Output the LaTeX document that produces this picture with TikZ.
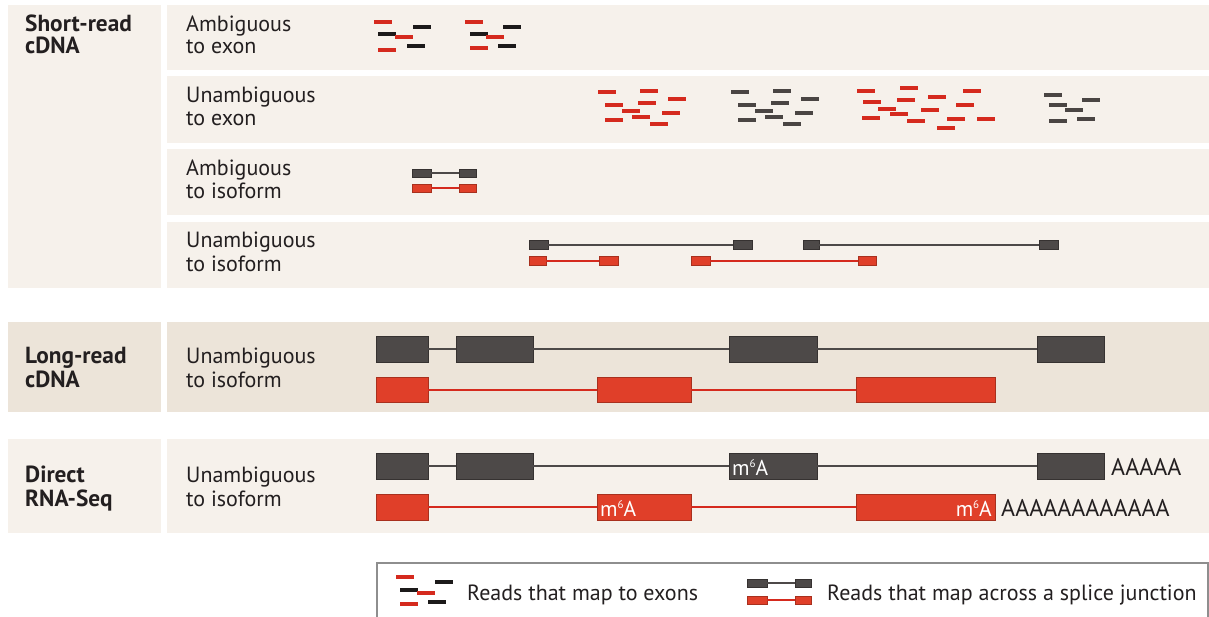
\documentclass[tikz,border=0pt]{standalone}
\usepackage{fontspec}
\setmainfont{PT Sans}
\definecolor{panelA}{HTML}{F6F1EB}
\definecolor{panelB}{HTML}{ECE4D9}
\definecolor{exgray}{HTML}{4D4948}
\definecolor{exgrayb}{HTML}{363231}
\definecolor{exred}{HTML}{E03F29}
\definecolor{exredb}{HTML}{A8301E}
\definecolor{readred}{HTML}{D52A1E}
\definecolor{readblk}{HTML}{1C1A1A}
\definecolor{readgray}{HTML}{4A4543}
\definecolor{txt}{HTML}{231F20}
\definecolor{legbd}{HTML}{8E8E8E}
\newcommand\rdash[3]{\draw[#1] (#2,#3) -- ++(18,0);}
\newcommand\exon[6]{\node[#1, minimum width={#4pt-#3pt}, minimum height=#6pt, anchor=west] (#2) at (#3,#5) {};}
\newcommand\mSixA{m\raisebox{7.5pt}{\fontsize{11}{11}\selectfont 6}A}
\tikzset{
  lbl/.style={anchor=base west, text=txt, inner sep=0pt, font=\fontsize{22}{24}\selectfont},
  blbl/.style={lbl, font=\fontsize{23.3}{24}\selectfont\bfseries},
  polya/.style={lbl, font=\fontsize{24}{24}\selectfont},
  rr/.style={readred, line width=4pt},
  rb/.style={readblk, line width=4pt},
  rg/.style={readgray, line width=4pt},
  lr/.style={readred, line width=3.5pt},
  lb/.style={readblk, line width=3.5pt},
  gex/.style={fill=exgray, draw=exgrayb, line width=0.6pt, inner sep=0pt, outer sep=0pt},
  rex/.style={fill=exred, draw=exredb, line width=0.6pt, inner sep=0pt, outer sep=0pt},
  gint/.style={exgray, line width=2pt},
  rint/.style={readred, line width=2pt},
  mtxt/.style={text=white, inner sep=0pt, font=\fontsize{21.5}{23}\selectfont},
}
\begin{document}
\begin{tikzpicture}[x=1pt,y=-1pt]
\useasboundingbox (0,0) rectangle (1209,617);
\fill[white] (0,0) rectangle (1209,617);
% panels
\fill[panelA] (8,5) rectangle (161,288);
\fill[panelA] (167,5) rectangle (1209,70);
\fill[panelA] (167,76) rectangle (1209,143);
\fill[panelA] (167,149) rectangle (1209,215);
\fill[panelA] (167,222) rectangle (1209,288);
\fill[panelB] (8,322) rectangle (161,412);
\fill[panelB] (167,322) rectangle (1209,412);
\fill[panelA] (8,439) rectangle (161,533);
\fill[panelA] (167,439) rectangle (1209,533);
% labels
\node[blbl] (sr1) at (25,32) {Short-read};
\node[blbl] (sr2) at (25,54) {cDNA};
\node[lbl] (a1) at (186,32) {Ambiguous};
\node[lbl] (a2) at (186,54) {to exon};
\node[lbl] (b1) at (186,103) {Unambiguous};
\node[lbl] (b2) at (186,126) {to exon};
\node[lbl] (c1) at (186,176) {Ambiguous};
\node[lbl] (c2) at (186,199) {to isoform};
\node[lbl] (d1) at (186,248) {Unambiguous};
\node[lbl] (d2) at (186,272) {to isoform};
\node[blbl] (lr1) at (25,363) {Long-read};
\node[blbl] (lr2) at (25,387) {cDNA};
\node[lbl] (e1) at (186,363) {Unambiguous};
\node[lbl] (e2) at (186,387) {to isoform};
\node[blbl] (dr1) at (25,482) {Direct};
\node[blbl] (dr2) at (25,506) {RNA-Seq};
\node[lbl] (f1) at (186,482) {Unambiguous};
\node[lbl] (f2) at (186,506) {to isoform};
% row 1 reads
\rdash{rr}{374}{22}\rdash{rb}{413}{27}\rdash{rb}{378}{34}\rdash{rr}{395}{37}\rdash{rr}{378}{50}\rdash{rb}{407}{46}
\rdash{rr}{465}{22}\rdash{rb}{503}{27}\rdash{rb}{470}{34}\rdash{rr}{486}{37}\rdash{rr}{470}{48}\rdash{rb}{498}{46}
% row 2 reads
\foreach \st/\dx in {rr/0, rg/133}{
  \foreach \x/\y in {598/92,640/91,605/105,638/103,668/99,622/111,662/113,632/117,605/120,650/124}{
    \pgfmathsetmacro\xx{\x+\dx}
    \rdash{\st}{\xx}{\y}
  }
}
\foreach \x/\y in {857/91,900/88,963/91,863/102,897/100,928/97,878/109,921/110,956/105,890/114,862/118,907/121,947/119,977/119,937/128}{
  \rdash{rr}{\x}{\y}
}
\foreach \x/\y in {1044/95,1082/100,1049/105,1065/110,1049/121,1077/119}{
  \rdash{rg}{\x}{\y}
}
% row 3
\exon{gex}{g31}{412}{431}{173}{8}\exon{gex}{g32}{459}{476}{173}{8}
\exon{rex}{r31}{412}{431}{188}{8}\exon{rex}{r32}{459}{476}{188}{8}
\draw[gint] (g31.east) -- (g32.west);
\draw[rint] (r31.east) -- (r32.west);
% row 4
\exon{gex}{g41}{529}{548}{245}{9}\exon{gex}{g42}{733}{752}{245}{9}
\exon{gex}{g43}{803}{819}{245}{9}\exon{gex}{g44}{1039}{1058}{245}{9}
\exon{rex}{r41}{529}{546}{261}{9}\exon{rex}{r42}{599}{618}{261}{9}
\exon{rex}{r43}{691}{710}{261}{9}\exon{rex}{r44}{858}{876}{261}{9}
\draw[gint] (g41.east) -- (g42.west);
\draw[gint] (g43.east) -- (g44.west);
\draw[rint] (r41.east) -- (r42.west);
\draw[rint] (r43.east) -- (r44.west);
% long read
\exon{gex}{lg1}{376}{428}{349}{26}\exon{gex}{lg2}{456}{533}{349}{26}
\exon{gex}{lg3}{729}{817}{349}{26}\exon{gex}{lg4}{1037}{1104}{349}{26}
\exon{rex}{lr1e}{376}{428}{389.5}{25}\exon{rex}{lr2e}{597}{691}{389.5}{25}
\exon{rex}{lr3e}{856}{995}{389.5}{25}
\draw[gint] (lg1.east) -- (lg2.west);
\draw[gint] (lg2.east) -- (lg3.west);
\draw[gint] (lg3.east) -- (lg4.west);
\draw[rint] (lr1e.east) -- (lr2e.west);
\draw[rint] (lr2e.east) -- (lr3e.west);
% direct RNA
\exon{gex}{dg1}{376}{428}{466}{26}\exon{gex}{dg2}{456}{533}{466}{26}
\exon{gex}{dg3}{729}{817}{466}{26}\exon{gex}{dg4}{1037}{1104}{466}{26}
\exon{rex}{dr1e}{376}{428}{507}{26}\exon{rex}{dr2e}{597}{691}{507}{26}
\exon{rex}{dr3e}{856}{995}{507}{26}
\draw[gint] (dg1.east) -- (dg2.west);
\draw[gint] (dg2.east) -- (dg3.west);
\draw[gint] (dg3.east) -- (dg4.west);
\draw[rint] (dr1e.east) -- (dr2e.west);
\draw[rint] (dr2e.east) -- (dr3e.west);
\node[mtxt, anchor=base west] (m1) at (732,475) {\mSixA};
\node[mtxt, anchor=base west] (m2) at (600,516) {\mSixA};
\node[mtxt, anchor=base east] (m3) at (992,516) {\mSixA};
\node[polya] (pa1) at (1111,475) {AAAAA};
\node[polya] (pa2) at (1001,516) {AAAAAAAAAAAA};
% legend
\draw[legbd, line width=1.2pt, fill=white] (377,563) rectangle (1208,640);
\rdash{lr}{396}{577}\rdash{lb}{435}{582}\rdash{lb}{400}{590}\rdash{lr}{417}{593}\rdash{lr}{400}{604}\rdash{lb}{428}{602}
\node[lbl] (lt1) at (467,600) {Reads that map to exons};
\exon{gex}{lg51}{747}{767}{583}{8}\exon{gex}{lg52}{795}{811}{583}{8}
\exon{rex}{lr51}{747}{767}{600}{8}\exon{rex}{lr52}{795}{811}{600}{8}
\draw[gint] (lg51.east) -- (lg52.west);
\draw[rint] (lr51.east) -- (lr52.west);
\node[lbl] (lt2) at (827,600) {Reads that map across a splice junction};
\end{tikzpicture}
\end{document}
